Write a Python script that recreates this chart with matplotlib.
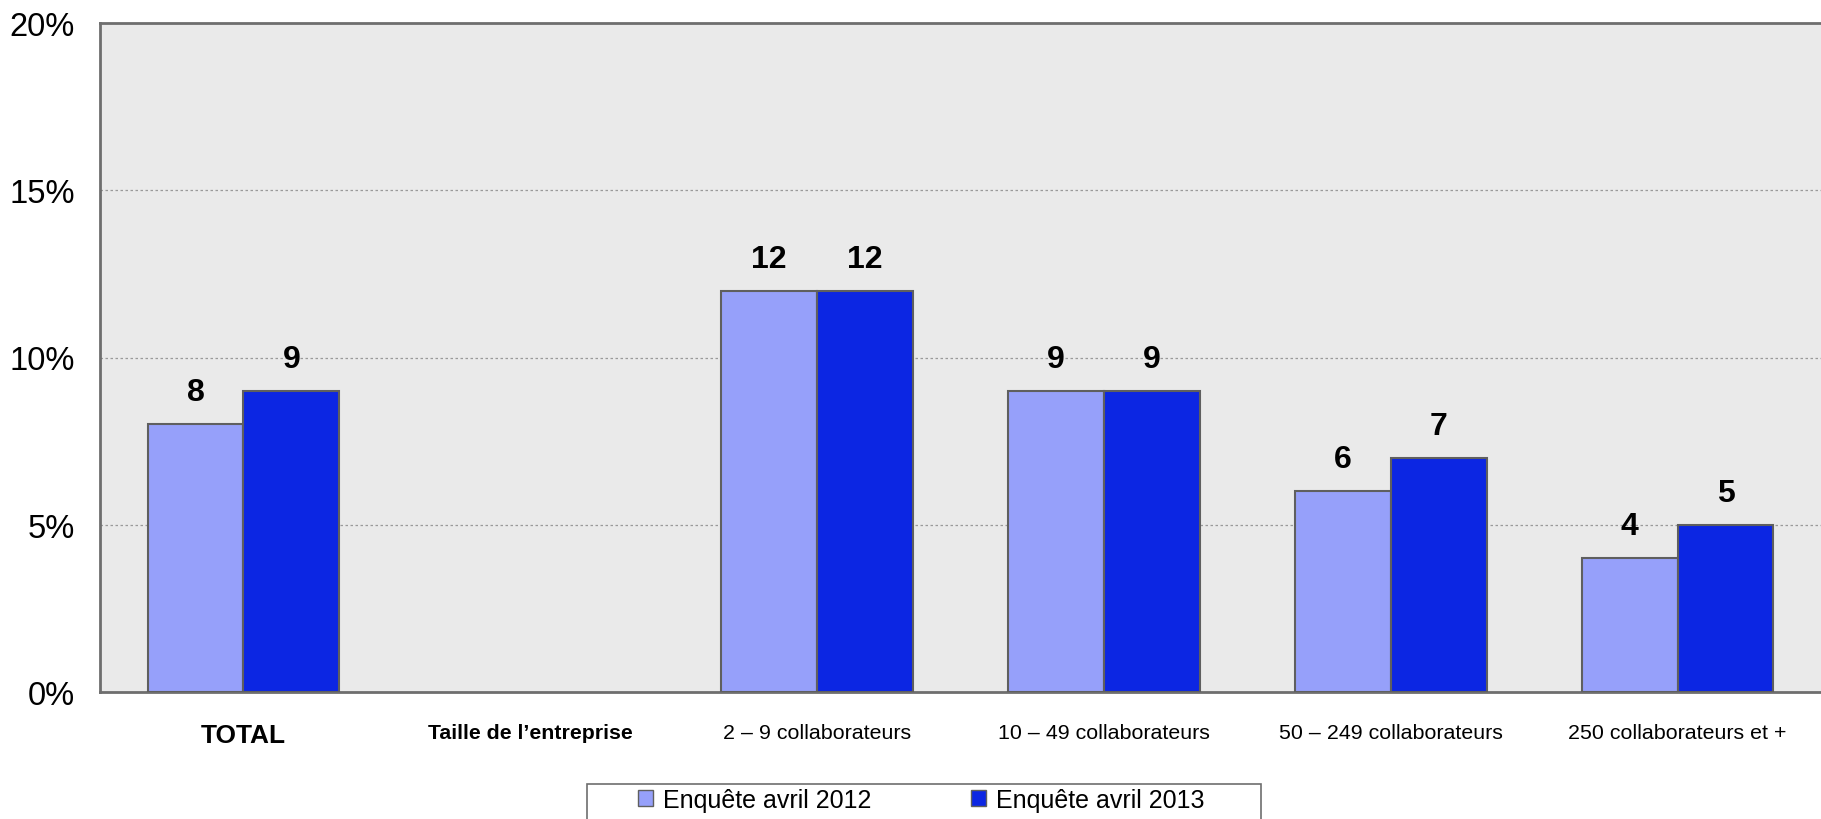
import matplotlib
matplotlib.use("Agg")
import matplotlib.pyplot as plt
import numpy as np
from matplotlib.patches import Patch, Rectangle

plt.rcParams['font.family'] = ['Liberation Sans', 'DejaVu Sans']

categories = ['TOTAL', 'Taille de l\u2019entreprise', '2 \u2013 9 collaborateurs',
              '10 \u2013 49 collaborateurs', '50 \u2013 249 collaborateurs',
              '250 collaborateurs et +']
series_names = ['Enqu\u00eate avril 2012', 'Enqu\u00eate avril 2013']
vals_2012 = [8, np.nan, 12, 9, 6, 4]
vals_2013 = [9, np.nan, 12, 9, 7, 5]
yticks = [0, 5, 10, 15, 20]

c_light = '#96A0FA'
c_dark = '#0C26E3'
edge = '#5f5f5f'

fig = plt.figure(figsize=(18.21, 8.2), dpi=100)
ax = fig.add_axes([100 / 1821, 1 - 693 / 820, 1 - 100 / 1821, (693 - 24) / 820])
ax.set_facecolor('#EAEAEA')

x = np.arange(len(categories))
w = 0.334
b1 = ax.bar(x - w / 2, vals_2012, w, color=c_light, edgecolor=edge, linewidth=1.5, zorder=3)
b2 = ax.bar(x + w / 2, vals_2013, w, color=c_dark, edgecolor=edge, linewidth=1.5, zorder=3)

for bars, vals in [(b1, vals_2012), (b2, vals_2013)]:
    for rect, v in zip(bars, vals):
        if np.isnan(v):
            continue
        ax.annotate('%d' % v, (rect.get_x() + rect.get_width() / 2, v),
                    xytext=(0, 23), textcoords='offset points',
                    ha='center', va='center', fontsize=23, fontweight='bold')

ax.set_xlim(-0.5, len(categories) - 0.5)
ax.set_ylim(0, 20)
ax.set_yticks(yticks)
ax.set_yticklabels(['%d%%' % t for t in yticks], fontsize=23.5)
ax.set_xticks(x)
ax.set_xticklabels(categories, fontsize=15.4)
ax.tick_params(axis='both', length=0)
ax.tick_params(axis='y', pad=18)
ax.tick_params(axis='x', pad=22)
xl = ax.get_xticklabels()
xl[0].set_fontweight('bold')
xl[0].set_fontsize(18.9)
xl[1].set_fontweight('bold')
xl[1].set_fontsize(15.3)

ax.yaxis.grid(True, linestyle=(0, (2, 2)), color='#9a9a9a', linewidth=0.9, zorder=0)
ax.set_axisbelow(True)
for s in ['left', 'top', 'bottom']:
    ax.spines[s].set_color('#6e6e6e')
    ax.spines[s].set_linewidth(2)
ax.spines['right'].set_visible(False)

# legend box, cut off at the bottom of the image
fig.patches.append(Rectangle((587 / 1821, -0.05), (1261 - 587) / 1821, 0.05 + (820 - 785) / 820,
                             transform=fig.transFigure, facecolor='white',
                             edgecolor='#6e6e6e', linewidth=1.2))
handles = [Patch(facecolor=c_light, edgecolor=edge, linewidth=1),
           Patch(facecolor=c_dark, edgecolor=edge, linewidth=1)]
fig.legend(handles, series_names, loc='center left', ncol=2,
           bbox_to_anchor=(638 / 1821, 1 - 801 / 820), frameon=False,
           prop={'size': 18},
           handlelength=0.6, handleheight=0.6, handletextpad=0.4,
           columnspacing=4.0, borderpad=0, borderaxespad=0)

fig.savefig('out.png', dpi=100)
